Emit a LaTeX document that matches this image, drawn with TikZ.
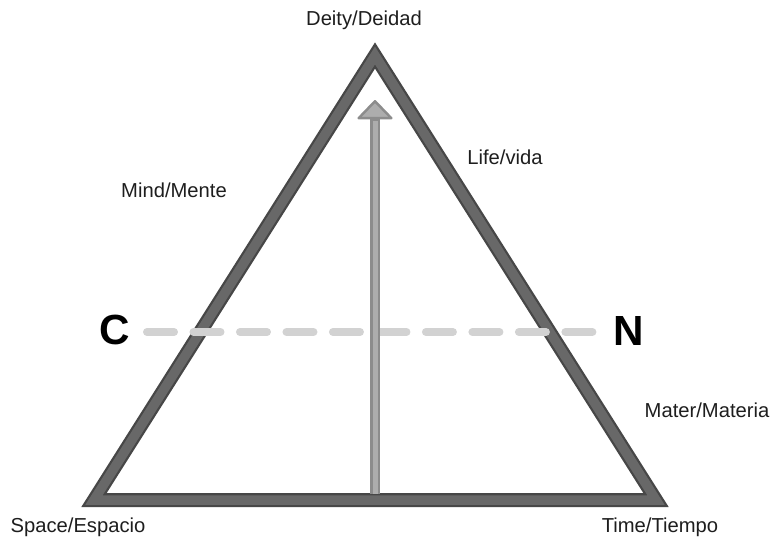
\documentclass[tikz,border=0pt]{standalone}
\usepackage{fontspec}
\setmainfont{Liberation Sans}
\usepackage{tikz}
\usetikzlibrary{positioning,calc,arrows.meta}

\definecolor{edgedark}{HTML}{474747}
\definecolor{edgemid}{HTML}{686868}
\definecolor{dashgray}{HTML}{D2D2D2}
\definecolor{shaftdark}{HTML}{8C8C8C}
\definecolor{shaftlight}{HTML}{ADADAD}
\definecolor{txt}{HTML}{1E1E1E}

\begin{document}
\begin{tikzpicture}[x=0.02cm,y=-0.02cm,
    lbl/.style={text=txt,font=\fontsize{11.5}{14}\selectfont,inner sep=0pt},
    pole/.style={text=black,font=\fontsize{24}{28}\selectfont\bfseries,inner sep=0pt}]
    \useasboundingbox[fill=white] (0,0) rectangle (772,538);
    % corners of the triangle (middle of the stroke)
    \coordinate (top) at (375,55.5);
    \coordinate (sl) at (94,500);
    \coordinate (sr) at (656,500);
    \draw[edgedark,line width=0.28cm,miter limit=10] (top) -- (sl) -- (sr) -- cycle;
    \draw[edgemid,line width=0.19cm,miter limit=10] (top) -- (sl) -- (sr) -- cycle;
    % poles and the dashed line
    \node[pole] (C) at (115,330) {C};
    \node[pole] (N) at (629,331) {N};
    \coordinate (cl) at (147,332);
    \coordinate (cr) at (593,332);
    \draw[dashgray,line width=0.16cm,line cap=round,dash pattern=on 0.54cm off 0.39cm] (cl) -- (cr);
    % the arrow
    \coordinate (ab) at (375,494);
    \coordinate (at) at (375,100);
    \draw[shaftdark,line width=0.19cm,-{Triangle[width=0.76cm,length=0.4cm,round,line width=1.4pt,fill=shaftlight]}] (ab) -- (at);
    \draw[shaftlight,line width=0.1cm,shorten >=0.42cm] (ab) -- (at);
    % labels
    \node[lbl] (deity) at (364,20) {Deity/Deidad};
    \node[lbl] (life) at (505,157) {Life/vida};
    \node[lbl] (mind) at (174,190) {Mind/Mente};
    \node[lbl] (mater) at (707,410) {Mater/Materia};
    \node[lbl] (space) at (78,527) {Space/Espacio};
    \node[lbl] (time) at (660,527) {Time/Tiempo};
\end{tikzpicture}
\end{document}
